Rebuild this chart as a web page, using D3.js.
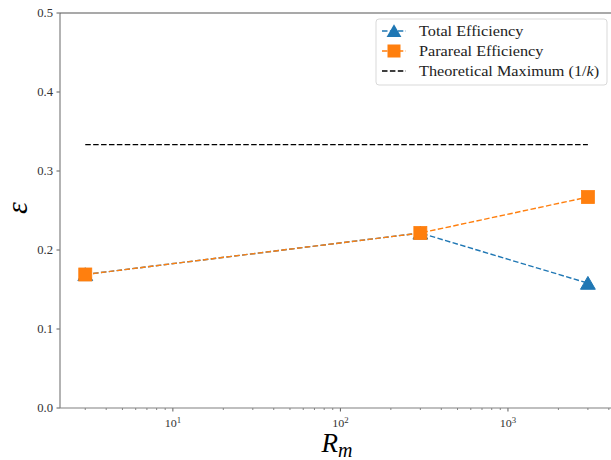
<!DOCTYPE html>
<meta charset="utf-8">
<script src="https://d3js.org/d3.v7.min.js"></script>
<style>
  body { margin: 0; background: #fff; }
</style>
<div id="my_dataviz"></div>
<script>
// data
var rm = [3, 300, 3000];
var totalEff = [0.169, 0.2215, 0.158];
var parareal = [0.169, 0.2215, 0.267];
var theoMax = 1 / 3;
var yTicks = [0.0, 0.1, 0.2, 0.3, 0.4, 0.5];
var xMajor = [10, 100, 1000];

var serif = "'Liberation Serif', serif";
var W = 611, H = 460;
var margin = {top: 13, left: 60},
    width = 553,
    height = 395;

var svg = d3.select("#my_dataviz")
  .append("svg")
    .attr("width", W)
    .attr("height", H)
    .style("font-family", serif);
var g = svg.append("g")
    .attr("transform", "translate(" + margin.left + "," + margin.top + ")");

var x = d3.scaleLog().domain([2.12, 4236]).range([0, width]);
var y = d3.scaleLinear().domain([0, 0.5]).range([height, 0]);

// minor ticks
var minor = [];
[1, 10, 100, 1000].forEach(function(b) {
  for (var k = 2; k <= 9; k++) minor.push(b * k);
});
minor = minor.filter(function(v) { return v >= 2.12 && v <= 4236; });

var spine = "#808080";
g.selectAll(".minor").data(minor).enter().append("line")
  .attr("x1", function(d) { return x(d); }).attr("x2", function(d) { return x(d); })
  .attr("y1", height).attr("y2", height + 2)
  .attr("stroke", "#333").attr("stroke-width", 0.6);

g.selectAll(".major").data(xMajor).enter().append("line")
  .attr("x1", function(d) { return x(d); }).attr("x2", function(d) { return x(d); })
  .attr("y1", height).attr("y2", height + 3.5)
  .attr("stroke", "#333").attr("stroke-width", 0.8);

var xl = g.selectAll(".xl").data(xMajor).enter().append("text")
  .attr("transform", function(d) { return "translate(" + x(d) + "," + (height + 19) + ") scale(1.1,1)"; })
  .attr("text-anchor", "middle")
  .attr("font-family", serif)
  .attr("font-size", 11)
  .attr("fill", "#333");
xl.append("tspan").text("10");
xl.append("tspan").attr("font-size", 8).attr("dy", -4)
  .text(function(d) { return Math.round(Math.log10(d)); });

// y ticks
g.selectAll(".ytick").data(yTicks).enter().append("line")
  .attr("x1", -3.5).attr("x2", 0)
  .attr("y1", function(d) { return y(d); }).attr("y2", function(d) { return y(d); })
  .attr("stroke", "#333").attr("stroke-width", 0.8);
g.selectAll(".yl").data(yTicks).enter().append("text")
  .attr("transform", function(d) { return "translate(-7," + (y(d) + 4) + ") scale(1.1,1)"; })
  .attr("text-anchor", "end")
  .attr("font-family", serif)
  .attr("font-size", 11.5)
  .attr("fill", "#333")
  .text(function(d) { return d.toFixed(1); });

// spines
g.append("line").attr("x1", 0).attr("x2", 0).attr("y1", 0).attr("y2", height)
  .attr("stroke", spine).attr("stroke-width", 1.2);
g.append("line").attr("x1", 0).attr("x2", width).attr("y1", height).attr("y2", height)
  .attr("stroke", spine).attr("stroke-width", 1.2);
g.append("line").attr("x1", 0).attr("x2", width).attr("y1", 0).attr("y2", 0)
  .attr("stroke", "#555").attr("stroke-width", 1.2);

// theoretical max
g.append("line")
  .attr("x1", x(rm[0])).attr("x2", x(rm[rm.length - 1]))
  .attr("y1", y(theoMax)).attr("y2", y(theoMax))
  .attr("stroke", "#000").attr("stroke-width", 1.4)
  .attr("stroke-dasharray", "5.5,2.4");

var line = d3.line()
  .x(function(d) { return x(d[0]); })
  .y(function(d) { return y(d[1]); });

var blue = "#1f77b4", orange = "#ff7f0e";

g.append("path")
  .datum(rm.map(function(v, i) { return [v, totalEff[i]]; }))
  .attr("d", line).attr("fill", "none")
  .attr("stroke", blue).attr("stroke-width", 1.4)
  .attr("stroke-dasharray", "5.5,2.4");
g.append("path")
  .datum(rm.map(function(v, i) { return [v, parareal[i]]; }))
  .attr("d", line).attr("fill", "none")
  .attr("stroke", orange).attr("stroke-width", 1.4)
  .attr("stroke-dasharray", "5.5,2.4");

var tri = d3.symbol().type(d3.symbolTriangle).size(95);
g.selectAll(".tri").data(rm).enter().append("path")
  .attr("d", tri)
  .attr("transform", function(d, i) { return "translate(" + x(d) + "," + (y(totalEff[i]) + 1.8) + ")"; })
  .attr("fill", blue).attr("stroke", blue).attr("stroke-width", 1);
g.selectAll(".sq").data(rm).enter().append("rect")
  .attr("x", function(d) { return x(d) - 6.5; })
  .attr("y", function(d, i) { return y(parareal[i]) - 6.5; })
  .attr("width", 13).attr("height", 13)
  .attr("fill", orange).attr("stroke", orange).attr("stroke-width", 0.8);

// axis labels
var xt = svg.append("text")
  .attr("x", 337).attr("y", 452)
  .attr("text-anchor", "middle")
  .attr("font-family", serif)
  .attr("font-size", 27)
  .attr("fill", "#000");
xt.append("tspan").attr("font-style", "italic").text("R");
xt.append("tspan").attr("font-style", "italic").attr("font-size", 20).attr("dy", 5).text("m");

svg.append("text")
  .attr("transform", "translate(27,208) rotate(-90)")
  .attr("text-anchor", "middle")
  .attr("font-family", serif)
  .attr("font-size", 30)
  .attr("font-style", "italic")
  .attr("fill", "#000")
  .text("\u03b5");

// legend
var lg = svg.append("g").attr("transform", "translate(376,19)");
lg.append("rect").attr("width", 231).attr("height", 66).attr("rx", 3)
  .attr("fill", "#fff").attr("fill-opacity", 0.8)
  .attr("stroke", "#d9d9d9").attr("stroke-width", 1);

var entries = [
  {name: "Total Efficiency", color: blue, mark: "tri"},
  {name: "Parareal Efficiency", color: orange, mark: "sq"},
  {name: "Theoretical Maximum (1/", color: "#000", mark: "none"}
];
entries.forEach(function(e, i) {
  var cy = 12 + i * 20;
  lg.append("line").attr("x1", 6).attr("x2", 30).attr("y1", cy).attr("y2", cy)
    .attr("stroke", e.color).attr("stroke-width", 1.4)
    .attr("stroke-dasharray", "5.5,2.4");
  if (e.mark === "tri") {
    lg.append("path").attr("d", tri).attr("transform", "translate(18," + (cy + 1.8) + ")")
      .attr("fill", e.color);
  } else if (e.mark === "sq") {
    lg.append("rect").attr("x", 11.5).attr("y", cy - 6.5).attr("width", 13).attr("height", 13)
      .attr("fill", e.color);
  }
  var t = lg.append("text")
    .attr("transform", "translate(43," + (cy + 5) + ") scale(1.12,1)")
    .attr("font-family", serif)
    .attr("font-size", 14.5).attr("fill", "#222").text(e.name);
  if (e.mark === "none") {
    t.append("tspan").attr("font-style", "italic").text("k");
    t.append("tspan").text(")");
  }
});
</script>
